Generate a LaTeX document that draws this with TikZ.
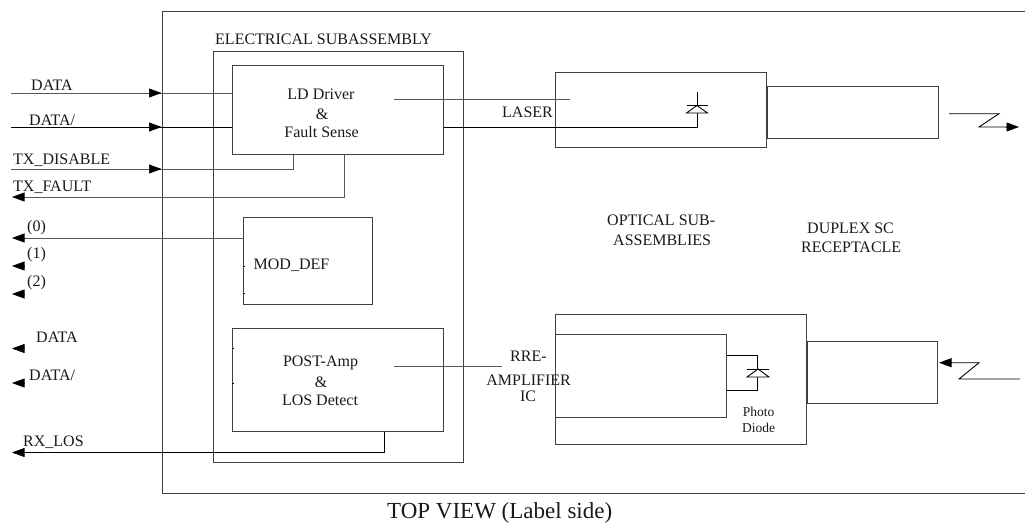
\documentclass[tikz,border=0pt]{standalone}
\usepackage{fontspec}
\setmainfont{Liberation Serif}
\usetikzlibrary{arrows.meta}
\definecolor{ln}{gray}{0.25}
\tikzset{
  box/.style={draw=ln,line width=1.1pt,fill=none,inner sep=0pt,rectangle},
  wire/.style={draw=black,line width=0.9pt},
  gwire/.style={draw=black!65,line width=1pt},
  tiparrow/.style={-{Triangle[length=12.5pt,width=9pt]},line width=0.6pt,black,shorten >=0pt},
  lbl/.style={font=\fontsize{16}{18}\selectfont,inner sep=0pt,text=black!90},
  captionlbl/.style={font=\fontsize{23}{26}\selectfont,inner sep=0pt,text=black!90},
  smalllbl/.style={font=\fontsize{13.5}{15}\selectfont,inner sep=0pt,text=black!90},
  diode/.style={draw=black,line width=0.9pt,fill=white},
}
\newcommand{\bx}[5]{\node[box,anchor=north west,minimum width=#4pt-#2pt,minimum height=#5pt-#3pt] (#1) at (#2,#3) {};}
\begin{document}
\begin{tikzpicture}[x=1pt,y=-1pt]
\useasboundingbox (0,0) rectangle (1025,523);
% boxes
\bx{outer}{162}{10.5}{1032}{493}
\bx{elec}{212.5}{51}{463}{462}
\bx{ld}{232}{65}{443}{154}
\bx{mod}{243}{217}{372}{304}
\bx{post}{232}{328}{443}{431}
\bx{laser}{555}{72}{766}{147}
\bx{duptop}{767}{86}{938}{138}
\bx{opt}{555}{314}{806}{444}
\bx{pre}{555}{334}{726}{417}
\bx{dupbot}{807}{341}{937}{403}
% free ends
\coordinate (iA) at (11,93);
\coordinate (iB) at (11,127);
\coordinate (iC) at (11,169);
\coordinate (oF) at (24,197);
\coordinate (oM) at (24,238);
\coordinate (oR) at (24,452.5);
\coordinate (fC) at (293,169);
\coordinate (fF) at (344,197);
\coordinate (fR) at (384,452.5);
\coordinate (lsA) at (394,99.5);
\coordinate (lsB) at (570,99.5);
\coordinate (paA) at (394,366);
\coordinate (paB) at (502,366);
% wires
\draw[gwire] (iA) -- (ld.west |- iA);
\draw[wire] (iB) -- (ld.west |- iB);
\draw[gwire] (iC) -- (fC) -- (fC |- ld.south);
\draw[gwire] (oF) -- (fF) -- (fF |- ld.south);
\draw[gwire] (oM) -- (mod.west |- oM);
\draw[wire] (oR) -- (fR) -- (fR |- post.south);
\draw[gwire] (lsA) -- (lsB);
\draw[gwire] (paA) -- (paB);
% laser diode
\coordinate (lzT) at (697,92);
\coordinate (lzB) at (697,127);
\draw[wire] (ld.east |- lzB) -- (lzB) -- (lzT);
\coordinate (lzA) at (697,105.5);
\draw[diode] (lzA) -- ++(-10.5,7.5) -- ++(21,0) -- cycle;
\draw[wire] (lzA) ++(-10.5,0) -- ++(21,0);
% photo diode
\coordinate (pdT) at (757,355);
\coordinate (pdB) at (757,390);
\draw[wire] (pre.east |- pdT) -- (pdT) -- (pdB) -- (pre.east |- pdB);
\coordinate (pdA) at (758,369);
\draw[diode] (pdA) -- ++(-11,8) -- ++(22,0) -- cycle;
\draw[wire] (pdA) ++(-11,0) -- ++(22,0);
% zigzags
\coordinate (zA) at (949,113.7);
\coordinate (zB) at (999,113.7);
\coordinate (zC) at (979,127);
\coordinate (zD) at (1008,127);
\draw[wire] (zA) -- (zB) -- (zC) -- (zD);
\coordinate (yA) at (1020,379);
\coordinate (yB) at (959,379);
\coordinate (yC) at (979,362.7);
\coordinate (yD) at (950,362.7);
\draw[wire] (yA) -- (yB) -- (yC) -- (yD);
% arrowheads
\foreach \n/\y in {a/93,b/127,c/169} {
  \coordinate (h\n) at (149,\y); \coordinate (k\n) at (161.5,\y);
  \draw[tiparrow] (h\n) -- (k\n);
}
\foreach \n/\y in {d/197,e/238,f/266,g/294,h/348.5,i/383,j/452.5} {
  \coordinate (h\n) at (24.5,\y); \coordinate (k\n) at (12,\y);
  \draw[tiparrow] (h\n) -- (k\n);
}
\coordinate (hk) at (1006,127); \coordinate (kk) at (1019,127);
\draw[tiparrow] (hk) -- (kk);
\coordinate (hl) at (952,362.7); \coordinate (kl) at (939,362.7);
\draw[tiparrow] (hl) -- (kl);
% stubs
\coordinate (sA) at (0,266); \coordinate (sB) at (0,293); \coordinate (sC) at (0,348.5); \coordinate (sD) at (0,383);
\draw[wire,line width=0.6pt] (mod.west |- sA) -- ++(1.5,0);
\draw[wire,line width=0.6pt] (mod.west |- sB) -- ++(1.5,0);
\draw[wire,line width=0.6pt] (post.west |- sC) -- ++(1.5,0);
\draw[wire,line width=0.6pt] (post.west |- sD) -- ++(1.5,0);
% labels
\node[lbl,anchor=base west] (t1) at (215,44) {ELECTRICAL SUBASSEMBLY};
\node[lbl,anchor=base] (t2) at (321,99) {LD Driver};
\node[lbl,anchor=base] (t3) at (322,119) {\&};
\node[lbl,anchor=base] (t4) at (321.5,137) {Fault Sense};
\node[lbl,anchor=base west] (t5) at (31,90) {DATA};
\node[lbl,anchor=base west] (t6) at (29,125) {DATA/};
\node[lbl,anchor=base west] (t7) at (13,164) {TX\_DISABLE};
\node[lbl,anchor=base west] (t8) at (13,191) {TX\_FAULT};
\node[lbl,anchor=base west] (t9) at (27,231) {(0)};
\node[lbl,anchor=base west] (t10) at (27,258) {(1)};
\node[lbl,anchor=base west] (t11) at (27,286) {(2)};
\node[lbl,anchor=base west] (t12) at (36,342) {DATA};
\node[lbl,anchor=base west] (t13) at (29,380) {DATA/};
\node[lbl,anchor=base west] (t14) at (23,446) {RX\_LOS};
\node[lbl,anchor=base west] (t15) at (502,117) {LASER};
\node[lbl,anchor=base west] (t16) at (253.5,269) {MOD\_DEF};
\node[lbl,anchor=base] (t17) at (320.5,366) {POST-Amp};
\node[lbl,anchor=base] (t18) at (321,387) {\&};
\node[lbl,anchor=base] (t19) at (320,405) {LOS Detect};
\node[lbl,anchor=base west] (t20) at (607,225) {OPTICAL SUB-};
\node[lbl,anchor=base west] (t21) at (613,245) {ASSEMBLIES};
\node[lbl,anchor=base west] (t22) at (807,233) {DUPLEX SC};
\node[lbl,anchor=base west] (t23) at (801,252) {RECEPTACLE};
\node[lbl,anchor=base west] (t24) at (510,361) {RRE-};
\node[lbl,anchor=base east] (t25) at (571,385) {AMPLIFIER};
\node[lbl,anchor=base] (t26) at (528,401) {IC};
\node[smalllbl,anchor=base] (t27) at (758.5,416) {Photo};
\node[smalllbl,anchor=base] (t28) at (758.5,432) {Diode};
\node[captionlbl,anchor=base west] (t29) at (387,518) {TOP VIEW (Label side)};
\end{tikzpicture}
\end{document}
